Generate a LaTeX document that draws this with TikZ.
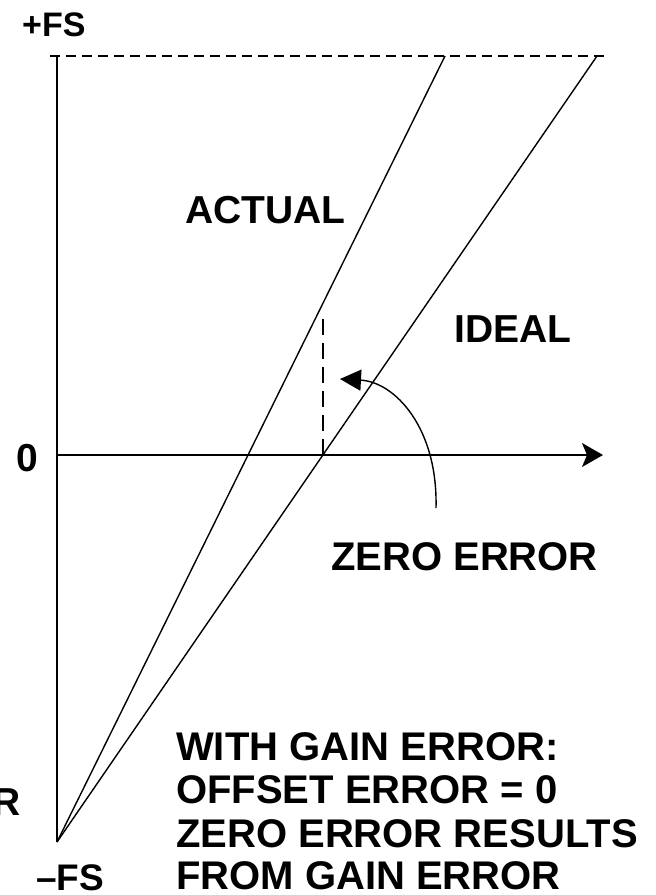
\documentclass[tikz,border=0pt]{standalone}
\usepackage{fontspec}
\setmainfont{Liberation Sans}
\usetikzlibrary{arrows.meta}
\tikzset{
  lbl/.style={inner sep=0pt, font=\bfseries\fontsize{39}{43.5}\selectfont},
  note/.style={inner sep=0pt, font=\bfseries\fontsize{40}{43.5}\selectfont},
  axis/.style={line width=1.6pt},
  trace/.style={line width=1.4pt},
  guide/.style={line width=1.6pt, dash pattern=on 10pt off 6pt},
  marker/.style={line width=1.4pt, dash pattern=on 16pt off 8pt},
}
\begin{document}
\begin{tikzpicture}[x=1pt,y=-1pt]
\useasboundingbox (0,0) rectangle (656,895);
% coordinates
\coordinate (lo) at (57,842);
\coordinate (top) at (57,56);
\coordinate (dl) at (50,56);
\coordinate (dr) at (606,56);
\coordinate (atop) at (445,56);
\coordinate (itop) at (597,56);
\coordinate (zero) at (57,455);
\coordinate (xend) at (603,455);
\coordinate (zc) at (323,455);
\coordinate (zt) at (323,315);
\coordinate (cs) at (436,508);
\coordinate (ce) at (340,379);
% full-scale dashed line
\draw[guide] (dl) -- (dr);
% axes
\draw[axis] (lo) -- (top);
\draw[axis, -{Stealth[length=21pt,width=24pt,inset=5pt]}] (zero) -- (xend);
% transfer lines
\draw[trace] (lo) -- (atop);
\draw[trace] (lo) -- (itop);
% zero error marker
\draw[marker] (zc) -- (zt);
\draw[trace, -{Triangle[length=21pt,width=21pt]}] (cs) .. controls (438,428) and (395,382) .. (ce);
% labels
\node[lbl, font=\bfseries\fontsize{34}{38}\selectfont, anchor=base west] (pfs) at (22,36) {+FS};
\node[lbl, anchor=base] (zl) at (27,471) {0};
\node[lbl, font=\bfseries\fontsize{37}{40}\selectfont, anchor=base west] (mfs) at (36,890) {–FS};
\node[lbl, anchor=base east] (rr) at (21,815) {R};
\node[lbl, anchor=base west] (act) at (185,223) {ACTUAL};
\node[lbl, anchor=base west] (ide) at (454,342) {IDEAL};
\node[note, anchor=base west] (zer) at (331,570) {ZERO ERROR};
\node[note, anchor=base west] (n1) at (176,760) {WITH GAIN ERROR:};
\node[note, anchor=base west] (n2) at (176,803) {OFFSET ERROR = 0};
\node[note, anchor=base west] (n3) at (176,847) {ZERO ERROR RESULTS};
\node[note, anchor=base west] (n4) at (176,889) {FROM GAIN ERROR};
\end{tikzpicture}
\end{document}
